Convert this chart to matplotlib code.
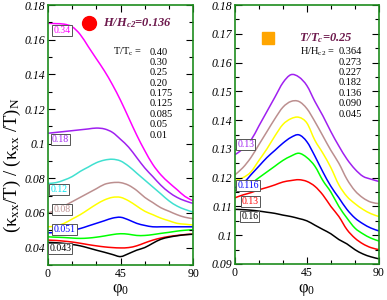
import numpy as np
import matplotlib
matplotlib.use("Agg")
import matplotlib.pyplot as plt
from matplotlib.path import Path
from matplotlib.patches import PathPatch
from matplotlib.ticker import MultipleLocator

plt.rcParams['font.family'] = ['Liberation Serif', 'DejaVu Serif']
plt.rcParams['mathtext.default'] = 'regular'

phi = [0, 5, 10, 15, 20, 25, 30, 35, 40, 45, 50, 55, 60, 65, 70, 75, 80, 85, 90]

# left panel: H/Hc2 = 0.136, T/Tc = 0.40 ... 0.01
left_T = ['0.40', '0.30', '0.25', '0.20', '0.175', '0.125', '0.085', '0.05', '0.01']
left_magenta = [0.1695, 0.1693, 0.169, 0.1675, 0.163, 0.156, 0.149, 0.142, 0.134, 0.125, 0.115,
                0.105, 0.096, 0.088, 0.082, 0.0775, 0.0735, 0.0695, 0.067]
left_purple = [0.106, 0.1065, 0.107, 0.1075, 0.108, 0.1085, 0.109, 0.1085, 0.1065, 0.1025, 0.098,
               0.092, 0.086, 0.081, 0.076, 0.072, 0.069, 0.067, 0.0655]
left_cyan = [0.077, 0.0775, 0.079, 0.081, 0.084, 0.0865, 0.089, 0.0905, 0.091, 0.090, 0.087,
             0.083, 0.079, 0.075, 0.071, 0.067, 0.064, 0.062, 0.0605]
left_brown = [0.060, 0.0615, 0.064, 0.0665, 0.069, 0.0715, 0.074, 0.0765, 0.0775, 0.0775, 0.076,
              0.073, 0.069, 0.066, 0.063, 0.061, 0.059, 0.0575, 0.0567]
left_yellow = [0.052, 0.0525, 0.054, 0.0565, 0.059, 0.062, 0.065, 0.0675, 0.069, 0.069, 0.067,
               0.064, 0.061, 0.059, 0.057, 0.0555, 0.054, 0.0535, 0.053]
left_blue = [0.0485, 0.0487, 0.049, 0.050, 0.051, 0.0525, 0.054, 0.0555, 0.057, 0.0575, 0.056,
             0.054, 0.0528, 0.052, 0.052, 0.052, 0.052, 0.052, 0.052]
left_green = [0.0462, 0.046, 0.0458, 0.0455, 0.0453, 0.0455, 0.046, 0.0467, 0.0475, 0.048, 0.0477,
              0.047, 0.047, 0.0475, 0.0482, 0.0488, 0.0495, 0.050, 0.0503]
left_red = [0.0443, 0.0441, 0.0437, 0.0432, 0.0425, 0.0417, 0.041, 0.0404, 0.040, 0.0398, 0.040,
            0.041, 0.0427, 0.0443, 0.0455, 0.0464, 0.047, 0.0475, 0.0478]
left_black = [0.0430, 0.0428, 0.0424, 0.0418, 0.041, 0.0398, 0.0385, 0.0373, 0.036, 0.0348, 0.0365,
              0.0385, 0.040, 0.0425, 0.0448, 0.046, 0.0468, 0.0474, 0.0477]

# right panel: T/Tc = 0.25, H/Hc2 = 0.364 ... 0.045
right_H = ['0.364', '0.273', '0.227', '0.182', '0.136', '0.090', '0.045']
right_purple = [0.128, 0.130, 0.133, 0.138, 0.143, 0.148, 0.153, 0.1558, 0.155, 0.152, 0.1465,
                0.1415, 0.136, 0.131, 0.1265, 0.123, 0.1205, 0.1195, 0.1187]
right_brown = [0.121, 0.1235, 0.127, 0.1315, 0.136, 0.1405, 0.1445, 0.1465, 0.1465, 0.144, 0.1395,
               0.1345, 0.1295, 0.125, 0.1195, 0.1155, 0.113, 0.1115, 0.111]
right_yellow = [0.119, 0.120, 0.122, 0.126, 0.130, 0.1345, 0.1385, 0.1405, 0.141, 0.139, 0.133,
                0.1285, 0.1235, 0.1175, 0.1135, 0.111, 0.109, 0.1075, 0.1065]
right_blue = [0.1165, 0.118, 0.121, 0.124, 0.127, 0.1295, 0.132, 0.134, 0.1349, 0.1325, 0.1275,
              0.122, 0.117, 0.113, 0.109, 0.106, 0.104, 0.1025, 0.1015]
right_green = [0.1155, 0.1165, 0.118, 0.120, 0.122, 0.124, 0.126, 0.1275, 0.1285, 0.127, 0.124,
               0.119, 0.1150, 0.110, 0.106, 0.1025, 0.1005, 0.099, 0.098]
right_red = [0.113, 0.114, 0.1148, 0.1158, 0.1166, 0.1175, 0.1185, 0.119, 0.1193, 0.1187, 0.117,
             0.114, 0.110, 0.1065, 0.102, 0.099, 0.097, 0.0957, 0.095]
right_black = [0.109, 0.1089, 0.1087, 0.1084, 0.108, 0.1076, 0.107, 0.1065, 0.1058, 0.105, 0.1035,
               0.102, 0.1005, 0.0985, 0.097, 0.095, 0.0935, 0.0925, 0.0918]

left_curves = [(left_magenta, '#FF00FF'), (left_purple, '#A020F0'), (left_cyan, '#40E0D0'),
               (left_brown, '#BC8F8F'), (left_yellow, '#FFFF00'), (left_blue, '#0000FF'),
               (left_green, '#00FF00'), (left_red, '#FF0000'), (left_black, '#000000')]
right_curves = [(right_purple, '#A020F0'), (right_brown, '#BC8F8F'), (right_yellow, '#FFFF00'),
                (right_blue, '#0000FF'), (right_green, '#00FF00'), (right_red, '#FF0000'),
                (right_black, '#000000')]

left_boxes = [('0.34', '#FF00FF', 0.1652), ('0.18', '#A020F0', 0.1025), ('0.12', '#00E5EE', 0.0734),
              ('0.08', '#BC8F8F', 0.0619), ('0.051', '#0000FF', 0.0504), ('0.043', '#000000', 0.0395)]
left_box_x = [3.5, 2.5, 1.5, 3.5, 3.5, 0.8]
right_boxes = [('0.13', '#A020F0', 0.1316), ('0.116', '#0000FF', 0.1173), ('0.13', '#FF0000', 0.1117),
               ('0.16', '#000000', 0.1064)]
right_box_x = [1.5, 1.5, 4.5, 4.0]

title_col = '#6E1B4E'
spine_col = '#1E8C1E'

fig = plt.figure(figsize=(3.87, 3.0), dpi=100)
axL = fig.add_axes([0.124, 0.117, 0.375, 0.866])
axR = fig.add_axes([0.607, 0.120, 0.372, 0.863])


def smooth_line(ax, x, y, color):
    # draw the sampled points joined by cubic Bezier segments (Catmull-Rom tangents)
    pts = np.column_stack([x, y]).astype(float)
    n = len(pts)
    verts = [pts[0]]
    codes = [Path.MOVETO]
    for i in range(n - 1):
        p0 = pts[max(i - 1, 0)]
        p1 = pts[i]
        p2 = pts[i + 1]
        p3 = pts[min(i + 2, n - 1)]
        verts += [p1 + (p2 - p0) / 6.0, p2 - (p3 - p1) / 6.0, p2]
        codes += [Path.CURVE4] * 3
    ax.add_patch(PathPatch(Path(verts, codes), fc='none', ec=color, lw=1.1))


def style_axes(ax, ymaj, ymin):
    for s in ax.spines.values():
        s.set_color(spine_col)
        s.set_linewidth(1.2)
    ax.set_xlim(0, 90)
    ax.xaxis.set_major_locator(MultipleLocator(45))
    ax.xaxis.set_minor_locator(MultipleLocator(15))
    ax.yaxis.set_major_locator(MultipleLocator(ymaj))
    ax.yaxis.set_minor_locator(MultipleLocator(ymin))
    ax.tick_params(which='both', direction='in', top=True, right=True, labelsize=8.5, pad=2)
    ax.tick_params(which='major', length=5, width=0.8)
    ax.tick_params(which='minor', length=3, width=0.8)
    ax.set_xlabel('φ$_0$', fontsize=12, labelpad=2)


style_axes(axL, 0.02, 0.01)
axL.set_ylim(0.03, 0.18)
axL.set_yticks([0.04, 0.06, 0.08, 0.1, 0.12, 0.14, 0.16, 0.18])
axL.set_yticklabels(['0.04', '0.06', '0.08', '0.1', '0.12', '0.14', '0.16', '0.18'], style='italic')
axL.set_ylabel('(κ$_{xx}$/T) / (κ$_{xx}$ /T)$_N$', fontsize=13.5)
axL.yaxis.set_label_coords(-0.17, 0.385)

style_axes(axR, 0.01, 0.005)
axR.set_ylim(0.09, 0.18)
axR.set_yticks([0.09, 0.1, 0.11, 0.12, 0.13, 0.14, 0.15, 0.16, 0.17, 0.18])
axR.set_yticklabels(['0.09', '0.1', '0.11', '0.12', '0.13', '0.14', '0.15', '0.16', '0.17', '0.18'],
                    style='italic')

for y, c in left_curves:
    smooth_line(axL, phi, y, c)
for y, c in right_curves:
    smooth_line(axR, phi, y, c)

bbox = dict(boxstyle='square,pad=0.12', fc='white', ec='#555555', lw=0.7)
for (txt, c, yv), xb in zip(left_boxes, left_box_x):
    axL.text(xb, yv, txt, color=c, fontsize=7, va='center', ha='left', bbox=bbox, zorder=5)
for (txt, c, yv), xb in zip(right_boxes, right_box_x):
    axR.text(xb, yv, txt, color=c, fontsize=7, va='center', ha='left', bbox=bbox, zorder=5)

# titles / markers
axL.plot([25.5], [0.1695], 'o', color='#FF0000', ms=10, clip_on=False)
axL.text(34, 0.1695, 'H/H$_{c2}$=0.136', color=title_col, fontsize=9, fontweight='bold',
         style='italic', va='center', ha='left')
axR.plot([20.5], [0.1686], 's', color='#FFA500', ms=9, clip_on=False)
axR.text(40, 0.1686, 'T/T$_c$=0.25', color=title_col, fontsize=9, fontweight='bold',
         style='italic', va='center', ha='left')

# value lists
axL.text(40.5, 0.1529, 'T/T$_c$ =', fontsize=7.5, va='center', ha='left')
for i, v in enumerate(left_T):
    axL.text(63, 0.1529 - i * 0.006, v, fontsize=7.5, va='center', ha='left')

axR.text(41, 0.1638, 'H/H$_{c2}$ =', fontsize=7.5, va='center', ha='left')
for i, v in enumerate(right_H):
    axR.text(65, 0.1638 - i * 0.00362, v, fontsize=7.5, va='center', ha='left')

fig.savefig('out.png', dpi=100)
